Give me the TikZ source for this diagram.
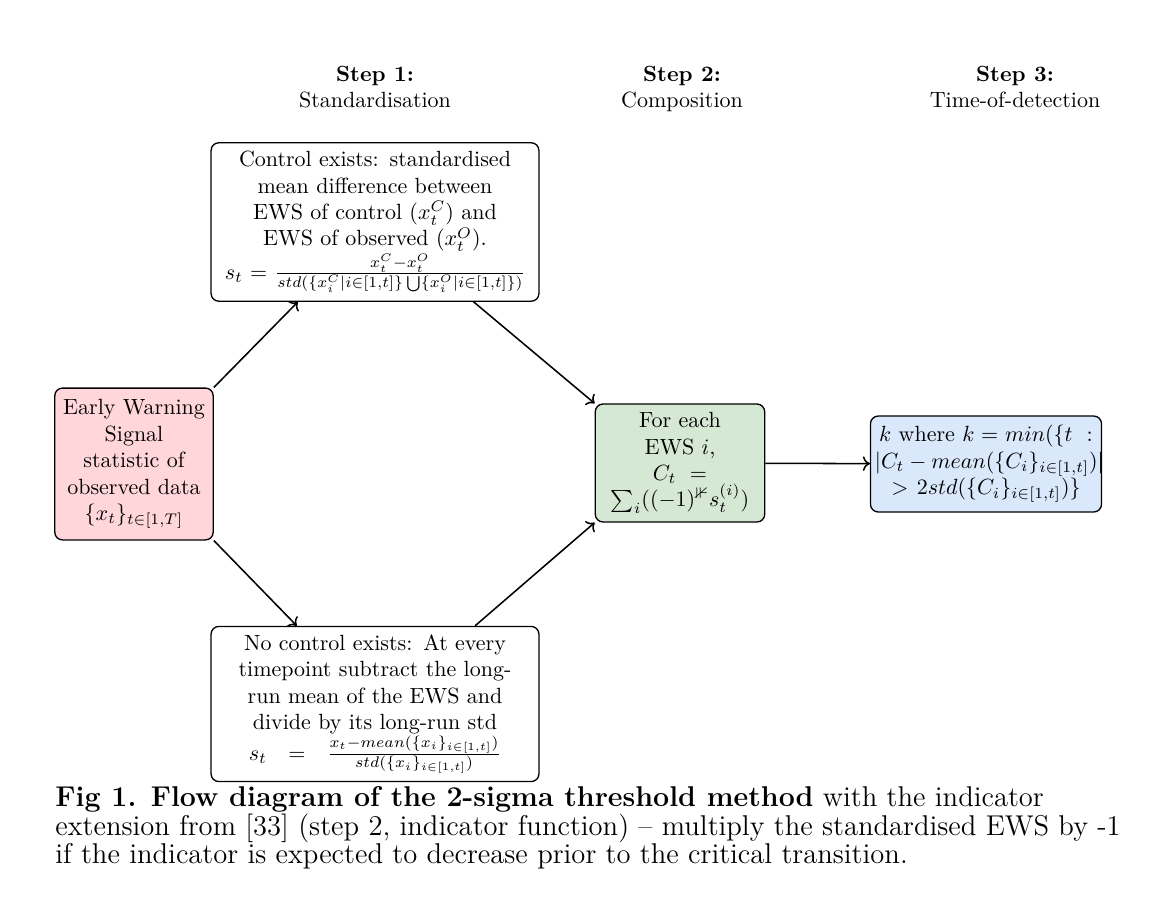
\documentclass[tikz,border=0pt]{standalone}
\usepackage{amsmath,amssymb}
\usetikzlibrary{arrows.meta}
\definecolor{obsred}{HTML}{FFD6D9}
\definecolor{compgreen}{HTML}{D5E8D4}
\definecolor{detblue}{HTML}{DAE8FC}
\tikzset{
  box/.style={rectangle,draw,rounded corners=3.5pt,line width=0.6pt,align=center,inner sep=2pt},
  steplab/.style={align=center,anchor=north},
  arrow/.style={->,line width=0.7pt},
  caption/.style={align=left,anchor=north west,inner sep=0,font=\fontsize{13}{13}\selectfont},
}

\begin{document}
\begin{tikzpicture}[x=0.4545pt,y=-0.4545pt]
  \useasboundingbox (0,0) rectangle (1154,910);
  % the three steps
  \node[steplab] (step1) at (375,58) {\textbf{Step 1:}\\Standardisation};
  \node[steplab] (step2) at (682,58) {\textbf{Step 2:}\\Composition};
  \node[steplab] (step3) at (1015,58) {\textbf{Step 3:}\\Time-of-detection};
  % boxes
  \node[box,fill=obsred,text width=68pt,minimum height=69pt] (obs) at (134,464)
    {Early Warning\\ Signal\\ statistic of\\ observed data\\ $\{x_t\}_{t\in[1,T]}$};
  \node[box,text width=145pt,minimum height=72pt] (ctrl) at (375,222)
    {Control exists: standardised\\ mean difference between\\ EWS of control $(x_t^C)$ and\\ EWS of observed $(x_t^O)$.\\
     $s_t = \frac{x_t^C - x_t^O}{std(\{x_i^C|i\in[1,t]\}\bigcup\{x_i^O|i\in[1,t]\})}$};
  \node[box,text width=145pt,minimum height=70.5pt] (noctrl) at (375,704)
    {No control exists: At every\\ timepoint subtract the long-\\ run mean of the EWS and\\ divide by its long-run std\\
     $s_t\;=\;\frac{x_t - mean(\{x_i\}_{i\in[1,t]})}{std(\{x_i\}_{i\in[1,t]})}$};
  \node[box,fill=compgreen,text width=73pt,minimum height=53.6pt] (comp) at (680,463)
    {For each\\ EWS $i$,\\ $C_t =$\\ $\sum_i((-1)^{\nVdash} s_t^{(i)})$};
  \node[box,fill=detblue,text width=101pt,minimum height=43.6pt] (detect) at (986,464)
    {$k$ where $k = min(\{t\ :$\\ \mbox{$|C_t - mean(\{C_i\}_{i\in[1,t]})|$}\\ $> 2std(\{C_i\}_{i\in[1,t]})\}$};
  % connectors
  \draw[arrow] (obs.north east) -- (ctrl.226);
  \draw[arrow] (obs.south east) -- (noctrl.135);
  \draw[arrow] (ctrl.321) -- (comp.north west);
  \draw[arrow] (noctrl.38) -- (comp.south west);
  \draw[arrow] (comp) -- (detect);
  % caption
  \node[caption] (cap) at (55,786)
    {\textbf{Fig 1. Flow diagram of the 2-sigma threshold method} with the indicator\\
     extension from [33] (step 2, indicator function) -- multiply the standardised EWS by -1\\
     if the indicator is expected to decrease prior to the critical transition.};
\end{tikzpicture}
\end{document}
